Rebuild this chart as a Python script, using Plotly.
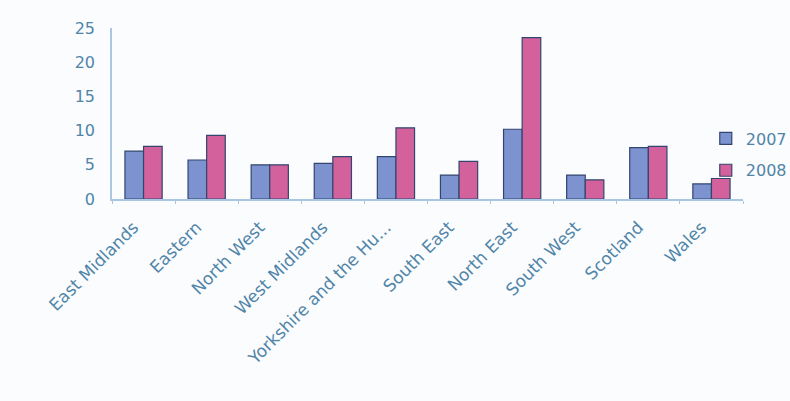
import plotly.graph_objects as go

regions = [
    "East Midlands", "Eastern", "North West", "West Midlands",
    "Yorkshire and the Hu...", "South East", "North East", "South West",
    "Scotland", "Wales",
]
series_names = ["2007", "2008"]
values_first = [7.0, 5.7, 5.0, 5.2, 6.2, 3.5, 10.2, 3.5, 7.5, 2.2]
values_second = [7.7, 9.3, 5.0, 6.2, 10.4, 5.5, 23.6, 2.8, 7.7, 3.0]
y_ticks = [0, 5, 10, 15, 20, 25]

text_color = "#5085a8"
axis_color = "#a9c6e4"
outline = "#33456f"
font_family = "DejaVu Sans, Verdana, sans-serif"

fig = go.Figure()
fig.add_trace(go.Bar(
    x=regions, y=values_first, name=series_names[0], legendgroup="a",
    marker=dict(color="#7d93cf", line=dict(color=outline, width=1.2)),
))
fig.add_trace(go.Bar(
    x=regions, y=values_second, name=series_names[1], legendgroup="b",
    marker=dict(color="#d3619c", line=dict(color=outline, width=1.2)),
))

fig.update_layout(
    width=790, height=401,
    margin=dict(l=112, r=47, t=28, b=202, autoexpand=False),
    paper_bgcolor="#fbfcfe",
    plot_bgcolor="#fbfcfe",
    barmode="group",
    bargap=0.41,
    bargroupgap=0,
    font=dict(family=font_family, color=text_color, size=15),
    legend=dict(
        x=0.941, xanchor="left", y=0.26, yanchor="middle",
        font=dict(size=16, color=text_color),
        itemwidth=30, traceorder="grouped", tracegroupgap=8,
        bgcolor="rgba(0,0,0,0)",
    ),
    xaxis=dict(
        tickangle=-45,
        tickfont=dict(size=17, color=text_color),
        showline=True, linecolor=axis_color, linewidth=1.5,
        ticks="outside", tickson="boundaries", ticklen=3, tickcolor=axis_color,
        ticklabelstandoff=10, ticklabelshift=-10,
        showgrid=False,
    ),
    yaxis=dict(
        range=[0, 25],
        tickvals=y_ticks,
        tickfont=dict(size=16, color=text_color),
        showline=True, linecolor=axis_color, linewidth=1.5,
        showgrid=False, zeroline=False,
        ticks="", ticklabelstandoff=12,
    ),
)

fig.write_html("out.html")
